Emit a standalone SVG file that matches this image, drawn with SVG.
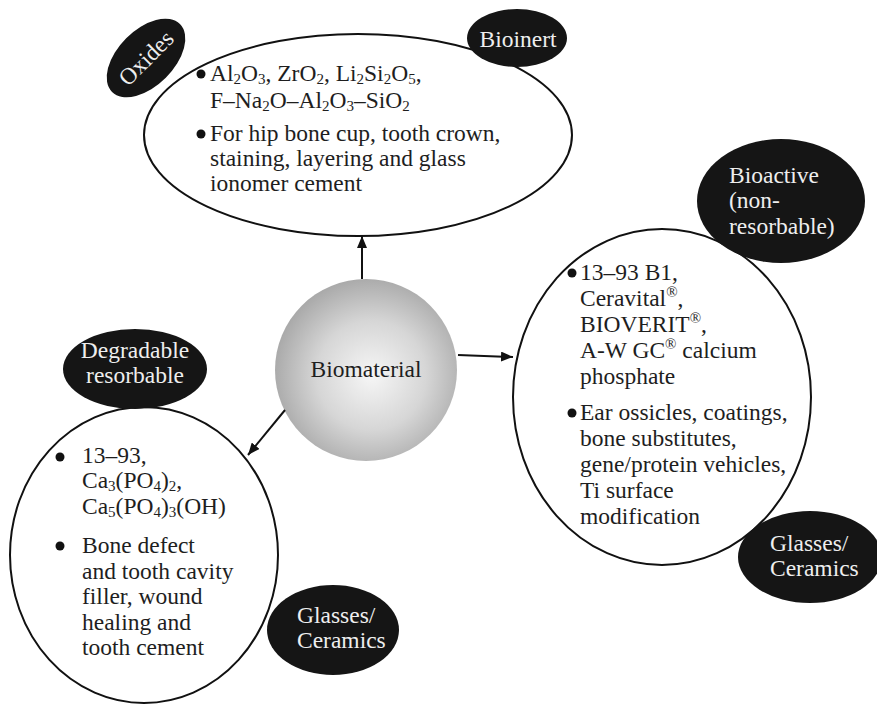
<svg xmlns="http://www.w3.org/2000/svg" width="877" height="704" viewBox="0 0 877 704">
  <defs>
    <radialGradient id="sphereFill" cx="0.53" cy="0.53" r="0.6">
      <stop offset="0" stop-color="#f6f6f6"/>
      <stop offset="0.5" stop-color="#d6d6d6"/>
      <stop offset="1" stop-color="#9e9e9e"/>
    </radialGradient>
    <marker id="arrow" viewBox="0 0 12 10" refX="12" refY="5" markerWidth="12" markerHeight="10" markerUnits="userSpaceOnUse" orient="auto">
      <path d="M0,0 L12,5 L0,10 z" fill="#111"/>
    </marker>
  </defs>
  <style>
    .frame { fill: #fff; stroke: #111; stroke-width: 2; }
    .tag { fill: #151515; }
    .tagtxt { font-family: "Liberation Serif", "Times New Roman", serif; font-size: 23.5px; fill: #eeeeee; }
    .mid { text-anchor: middle; }
    .txt { font-family: "Liberation Serif", "Times New Roman", serif; font-size: 23.5px; fill: #1e1e1e; }
    .sub { font-size: 15px; }
    .dot { fill: #111; }
    .link { stroke: #111; stroke-width: 2; fill: none; marker-end: url(#arrow); }
  </style>
  <rect width="877" height="704" fill="#fff"/>

  <!-- bioinert oxides -->
  <g id="bioinert">
    <ellipse class="frame" cx="358" cy="135" rx="214" ry="101"/>
    <circle class="dot" cx="201" cy="74" r="4.5"/>
    <text class="txt" x="210" y="81">Al<tspan class="sub" baseline-shift="-3">2</tspan>O<tspan class="sub" baseline-shift="-3">3</tspan>, ZrO<tspan class="sub" baseline-shift="-3">2</tspan>, Li<tspan class="sub" baseline-shift="-3">2</tspan>Si<tspan class="sub" baseline-shift="-3">2</tspan>O<tspan class="sub" baseline-shift="-3">5</tspan>,</text>
    <text class="txt" x="210" y="108">F–Na<tspan class="sub" baseline-shift="-3">2</tspan>O–Al<tspan class="sub" baseline-shift="-3">2</tspan>O<tspan class="sub" baseline-shift="-3">3</tspan>–SiO<tspan class="sub" baseline-shift="-3">2</tspan></text>
    <circle class="dot" cx="201" cy="134" r="4.5"/>
    <text class="txt" x="210" y="141">For hip bone cup, tooth crown,</text>
    <text class="txt" x="210" y="166">staining, layering and glass</text>
    <text class="txt" x="210" y="191">ionomer cement</text>
    <ellipse class="tag" cx="146" cy="58" rx="48" ry="28" transform="rotate(-45 146 58)"/>
    <text class="tagtxt mid" x="146" y="66" transform="rotate(-45 146 58)">Oxides</text>
    <ellipse class="tag" cx="517" cy="38" rx="50" ry="29"/>
    <text class="tagtxt mid" x="518" y="47">Bioinert</text>
  </g>

  <!-- bioactive glasses / ceramics -->
  <g id="bioactive">
    <ellipse class="frame" cx="662" cy="397" rx="149" ry="168"/>
    <circle class="dot" cx="572" cy="273" r="4.5"/>
    <text class="txt" x="580" y="280">13–93 B1,</text>
    <text class="txt" x="580" y="306">Ceravital<tspan class="sub" baseline-shift="9">®</tspan>,</text>
    <text class="txt" x="580" y="332">BIOVERIT<tspan class="sub" baseline-shift="9">®</tspan>,</text>
    <text class="txt" x="580" y="358">A-W GC<tspan class="sub" baseline-shift="9">®</tspan> calcium</text>
    <text class="txt" x="580" y="384">phosphate</text>
    <circle class="dot" cx="572" cy="413" r="4.5"/>
    <text class="txt" x="580" y="420">Ear ossicles, coatings,</text>
    <text class="txt" x="580" y="446">bone substitutes,</text>
    <text class="txt" x="580" y="472">gene/protein vehicles,</text>
    <text class="txt" x="580" y="498">Ti surface</text>
    <text class="txt" x="580" y="524">modification</text>
    <ellipse class="tag" cx="781" cy="201" rx="84" ry="62"/>
    <text class="tagtxt" x="729" y="183">Bioactive</text>
    <text class="tagtxt" x="729" y="208">(non-</text>
    <text class="tagtxt" x="729" y="234">resorbable)</text>
    <ellipse class="tag" cx="810" cy="557" rx="72" ry="46"/>
    <text class="tagtxt" x="770" y="551">Glasses/</text>
    <text class="tagtxt" x="770" y="576">Ceramics</text>
  </g>

  <!-- degradable / resorbable -->
  <g id="degradable">
    <ellipse class="frame" cx="144" cy="555" rx="134" ry="148"/>
    <circle class="dot" cx="60" cy="457" r="4.5"/>
    <text class="txt" x="82" y="463">13–93,</text>
    <text class="txt" x="82" y="488">Ca<tspan class="sub" baseline-shift="-3">3</tspan>(PO<tspan class="sub" baseline-shift="-3">4</tspan>)<tspan class="sub" baseline-shift="-3">2</tspan>,</text>
    <text class="txt" x="82" y="514">Ca<tspan class="sub" baseline-shift="-3">5</tspan>(PO<tspan class="sub" baseline-shift="-3">4</tspan>)<tspan class="sub" baseline-shift="-3">3</tspan>(OH)</text>
    <circle class="dot" cx="60" cy="546" r="4.5"/>
    <text class="txt" x="82" y="553">Bone defect</text>
    <text class="txt" x="82" y="579">and tooth cavity</text>
    <text class="txt" x="82" y="604">filler, wound</text>
    <text class="txt" x="82" y="630">healing and</text>
    <text class="txt" x="82" y="655">tooth cement</text>
    <ellipse class="tag" cx="135" cy="369" rx="72" ry="40"/>
    <text class="tagtxt mid" x="135" y="358">Degradable</text>
    <text class="tagtxt mid" x="135" y="383">resorbable</text>
    <ellipse class="tag" cx="333" cy="630" rx="66" ry="45"/>
    <text class="tagtxt" x="297" y="623">Glasses/</text>
    <text class="tagtxt" x="297" y="648">Ceramics</text>
  </g>

  <!-- central node -->
  <g id="biomaterial">
    <circle cx="366" cy="370" r="91" fill="url(#sphereFill)"/>
    <text class="txt mid" x="366" y="377">Biomaterial</text>
  </g>

  <!-- connectors from the central sphere -->
  <g id="connectors">
    <line class="link" x1="362" y1="279" x2="362" y2="236"/>
    <line class="link" x1="458" y1="355" x2="513" y2="357"/>
    <line class="link" x1="285" y1="410" x2="248" y2="455"/>
  </g>
</svg>
